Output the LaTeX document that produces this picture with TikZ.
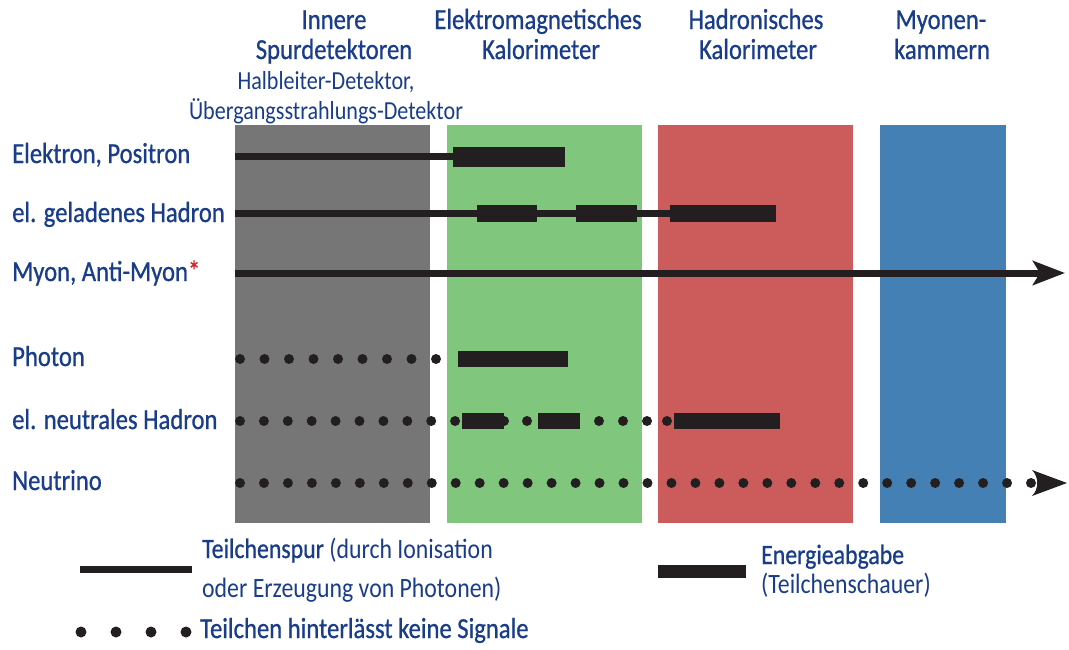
\documentclass[tikz,border=0pt]{standalone}
\usepackage{fontspec}
\setmainfont{Carlito}[FakeStretch=0.85]
\newfontfamily\medfont{Carlito}[FakeStretch=0.85,FakeBold=0.8]
\newfontfamily\lightfont{Carlito}[FakeStretch=0.85]
\usetikzlibrary{arrows.meta}
\definecolor{txt}{HTML}{1A3D8A}
\definecolor{ink}{HTML}{231F20}
\definecolor{cgray}{HTML}{767676}
\definecolor{cgreen}{HTML}{80C67D}
\definecolor{cred}{HTML}{CC5C5C}
\definecolor{cblue}{HTML}{4580B5}
\definecolor{cstar}{HTML}{C8262F}
\begin{document}
\begin{tikzpicture}[x=1pt,y=-1pt,
  lbl/.style={anchor=base west,inner sep=0pt,text=txt,font=\medfont\fontsize{29}{29}\selectfont},
  hdr/.style={anchor=base,inner sep=0pt,text=txt,font=\medfont\fontsize{29}{29}\selectfont},
  subhdr/.style={anchor=base,inner sep=0pt,text=txt,font=\lightfont\fontsize{26}{26}\selectfont},
  lgtext/.style={anchor=base west,inner sep=0pt,text=txt,font=\lightfont\fontsize{28}{28}\selectfont},
  track/.style={draw=ink,line width=7pt},
  shower/.style={fill=ink},
  pdot/.style={fill=ink}
]
\useasboundingbox (0,0) rectangle (1069,649);
% detector layers
\fill[cgray]  (235,125) rectangle (430,523);
\fill[cgreen] (447,125) rectangle (642,523);
\fill[cred]   (658,125) rectangle (853,523);
\fill[cblue]  (880,125) rectangle (1006,523);
% headers
\node[hdr] (h1a) at (334,29) {Innere};
\node[hdr] (h1b) at (334,59) {Spurdetektoren};
\node[subhdr] (h1c) at (326,89) {Halbleiter-Detektor,};
\node[subhdr] (h1d) at (326,119) {Übergangsstrahlungs-Detektor};
\node[hdr] (h2a) at (538,29) {Elektromagnetisches};
\node[hdr] (h2b) at (541,59) {Kalorimeter};
\node[hdr] (h3a) at (756,29) {Hadronisches};
\node[hdr] (h3b) at (758,59) {Kalorimeter};
\node[hdr] (h4a) at (941,29) {Myonen-};
\node[hdr] (h4b) at (942,59) {kammern};
% row labels
\node[lbl] (l1) at (12,163) {Elektron, Positron};
\node[lbl] (l2) at (12,222) {el. geladenes Hadron};
\node[lbl] (l3) at (12,281) {Myon, Anti-Myon\textcolor{cstar}{*}};
\node[lbl] (l4) at (12,366) {Photon};
\node[lbl] (l5) at (12,429) {el. neutrales Hadron};
\node[lbl] (l6) at (12,490) {Neutrino};
% electron
\coordinate (elS) at (235,156);
\coordinate (elE) at (456,156);
\draw[track] (elS) -- (elE);
\fill[shower] (453,147) rectangle (565,167);
% charged hadron
\coordinate (chS) at (235,213.5);
\coordinate (chE) at (775,213.5);
\draw[track] (chS) -- (chE);
\fill[shower] (477,205) rectangle (537,222);
\fill[shower] (576,205) rectangle (637,222);
\fill[shower] (670,205) rectangle (776,222);
% muon
\coordinate (myS) at (235,273);
\coordinate (myE) at (1065,273);
\draw[track,-{Stealth[length=32pt,width=24pt,inset=7pt]}] (myS) -- (myE);
% photon
\foreach \k in {0,...,8} \fill[pdot] ({240+24.5*\k},359) circle[radius=5pt];
\fill[shower] (458,351) rectangle (568,367);
% neutral hadron
\foreach \k in {0,...,9} \fill[pdot] ({240+23.9*\k},421) circle[radius=5pt];
\fill[shower] (462,413) rectangle (504,429);
\fill[pdot] (504,421) circle[radius=5pt];
\fill[pdot] (527,421) circle[radius=5pt];
\fill[shower] (538,413) rectangle (580,429);
\foreach \x in {599,623,647,667} \fill[pdot] (\x,421) circle[radius=5pt];
\fill[shower] (674,413) rectangle (780,429);
% neutrino
\foreach \k in {0,...,33} \fill[pdot] ({240+23.97*\k},483) circle[radius=5pt];
\coordinate (nuE) at (1067,483);
\fill[ink] (nuE) -- (1032,470) .. controls (1039,477) and (1039,489) .. (1032,496) -- cycle;
% legend
\coordinate (lgA) at (80,569);
\coordinate (lgB) at (192,569);
\draw[track] (lgA) -- (lgB);
\node[lgtext] (lt1) at (202,558) {{\medfont Teilchenspur} (durch Ionisation};
\node[lgtext] (lt2) at (202,597) {oder Erzeugung von Photonen)};
\fill[shower] (658,565) rectangle (746,578);
\node[lgtext] (lt3) at (761,564) {{\medfont Energieabgabe}};
\node[lgtext] (lt4) at (761,593) {(Teilchenschauer)};
\foreach \k in {0,...,3} \fill[pdot] ({81+35*\k},632) circle[radius=5.5pt];
\node[lbl] (lt5) at (200,638) {Teilchen hinterlässt keine Signale};
\end{tikzpicture}
\end{document}
